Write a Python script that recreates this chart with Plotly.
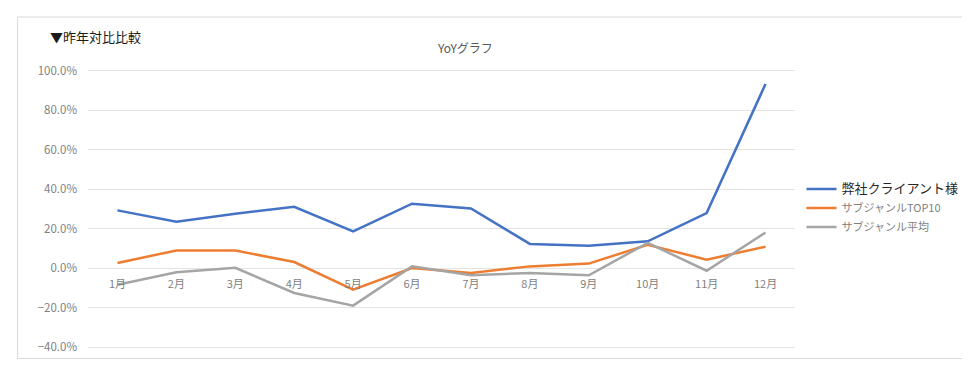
import plotly.graph_objects as go

months = ["1月", "2月", "3月", "4月", "5月", "6月", "7月", "8月", "9月", "10月", "11月", "12月"]
client = [29.3, 23.5, 27.6, 31.1, 18.6, 32.7, 30.3, 12.3, 11.4, 13.6, 27.9, 93.4]
top10 = [2.6, 9.0, 9.0, 3.1, -10.9, 0.1, -2.4, 0.9, 2.3, 11.9, 4.3, 10.9]
avg = [-8.4, -2.1, 0.2, -12.6, -19.0, 0.9, -3.6, -2.4, -3.6, 12.8, -1.3, 18.1]
series_names = ["弊社クライアント様", "サブジャンルTOP10", "サブジャンル平均"]
colors = ["#4472C4", "#ED7D31", "#A5A5A5"]
y_ticks = [-40, -20, 0, 20, 40, 60, 80, 100]

FONT = "Noto Sans CJK JP, Meiryo, sans-serif"
OFF = 8  # default page body margin
W, H = 970 - OFF, 373 - OFF
# plot area in window pixels
PL, PR, PT, PB = 87.5, 795.5, 69, 349
L, R, T, B = PL - OFF, W - (PR - OFF), PT - OFF, H - (PB - OFF)
pw, ph = PR - PL, PB - PT


def px_x(px):
    return (px - PL) / pw


def px_y(py):
    return (PB - py) / ph


fig = go.Figure()
names_display = [
    "<span style='font-size:13px;color:#262626'>" + series_names[0] + "</span>",
    series_names[1],
    series_names[2],
]
for vals, nm, c in zip([client, top10, avg], names_display, colors):
    fig.add_trace(go.Scatter(
        x=months, y=[v / 100 for v in vals], mode="lines", name=nm,
        line=dict(color=c, width=2.5),
    ))

ymin, ymax = -0.41, 1.01
fig.update_layout(
    width=W, height=H,
    margin=dict(l=L, r=R, t=T, b=B, autoexpand=False),
    paper_bgcolor="white", plot_bgcolor="white",
    font=dict(family=FONT, size=11, color="#7f7f7f"),
    showlegend=True,
    legend=dict(
        x=px_x(802), y=px_y(208), xanchor="left", yanchor="middle",
        font=dict(size=11, color="#7f7f7f", family=FONT),
        tracegroupgap=0, itemwidth=30, bgcolor="rgba(0,0,0,0)",
    ),
    xaxis=dict(
        type="category", range=[-0.5, 11.5], showgrid=False, showline=False,
        ticks="", anchor="free", position=(0 - ymin) / (ymax - ymin),
        tickfont=dict(size=11, color="#7f7f7f"), ticklabelstandoff=8,
    ),
    yaxis=dict(
        range=[ymin, ymax], tickvals=[v / 100 for v in y_ticks],
        tickformat=".1%", showgrid=True, gridcolor="#e3e3e3", gridwidth=1,
        zeroline=False, showline=False, ticks="",
        tickfont=dict(size=11.5, color="#7f7f7f"), ticklabelstandoff=10,
    ),
)

fig.add_shape(type="rect", xref="paper", yref="paper",
              x0=px_x(17), x1=px_x(964), y0=px_y(358.5), y1=px_y(17),
              line=dict(color="#d9d9d9", width=1), fillcolor="rgba(0,0,0,0)", layer="below")

fig.add_annotation(text="▼昨年対比比較", xref="paper", yref="paper",
                   x=px_x(47), y=px_y(37), xanchor="left", yanchor="middle",
                   showarrow=False, font=dict(size=13, color="#1a1a1a", family=FONT))
fig.add_annotation(text="YoYグラフ", xref="paper", yref="paper",
                   x=px_x(465), y=px_y(47), xanchor="center", yanchor="middle",
                   showarrow=False, font=dict(size=12, color="#595959", family=FONT))

fig.write_html("out.html")
